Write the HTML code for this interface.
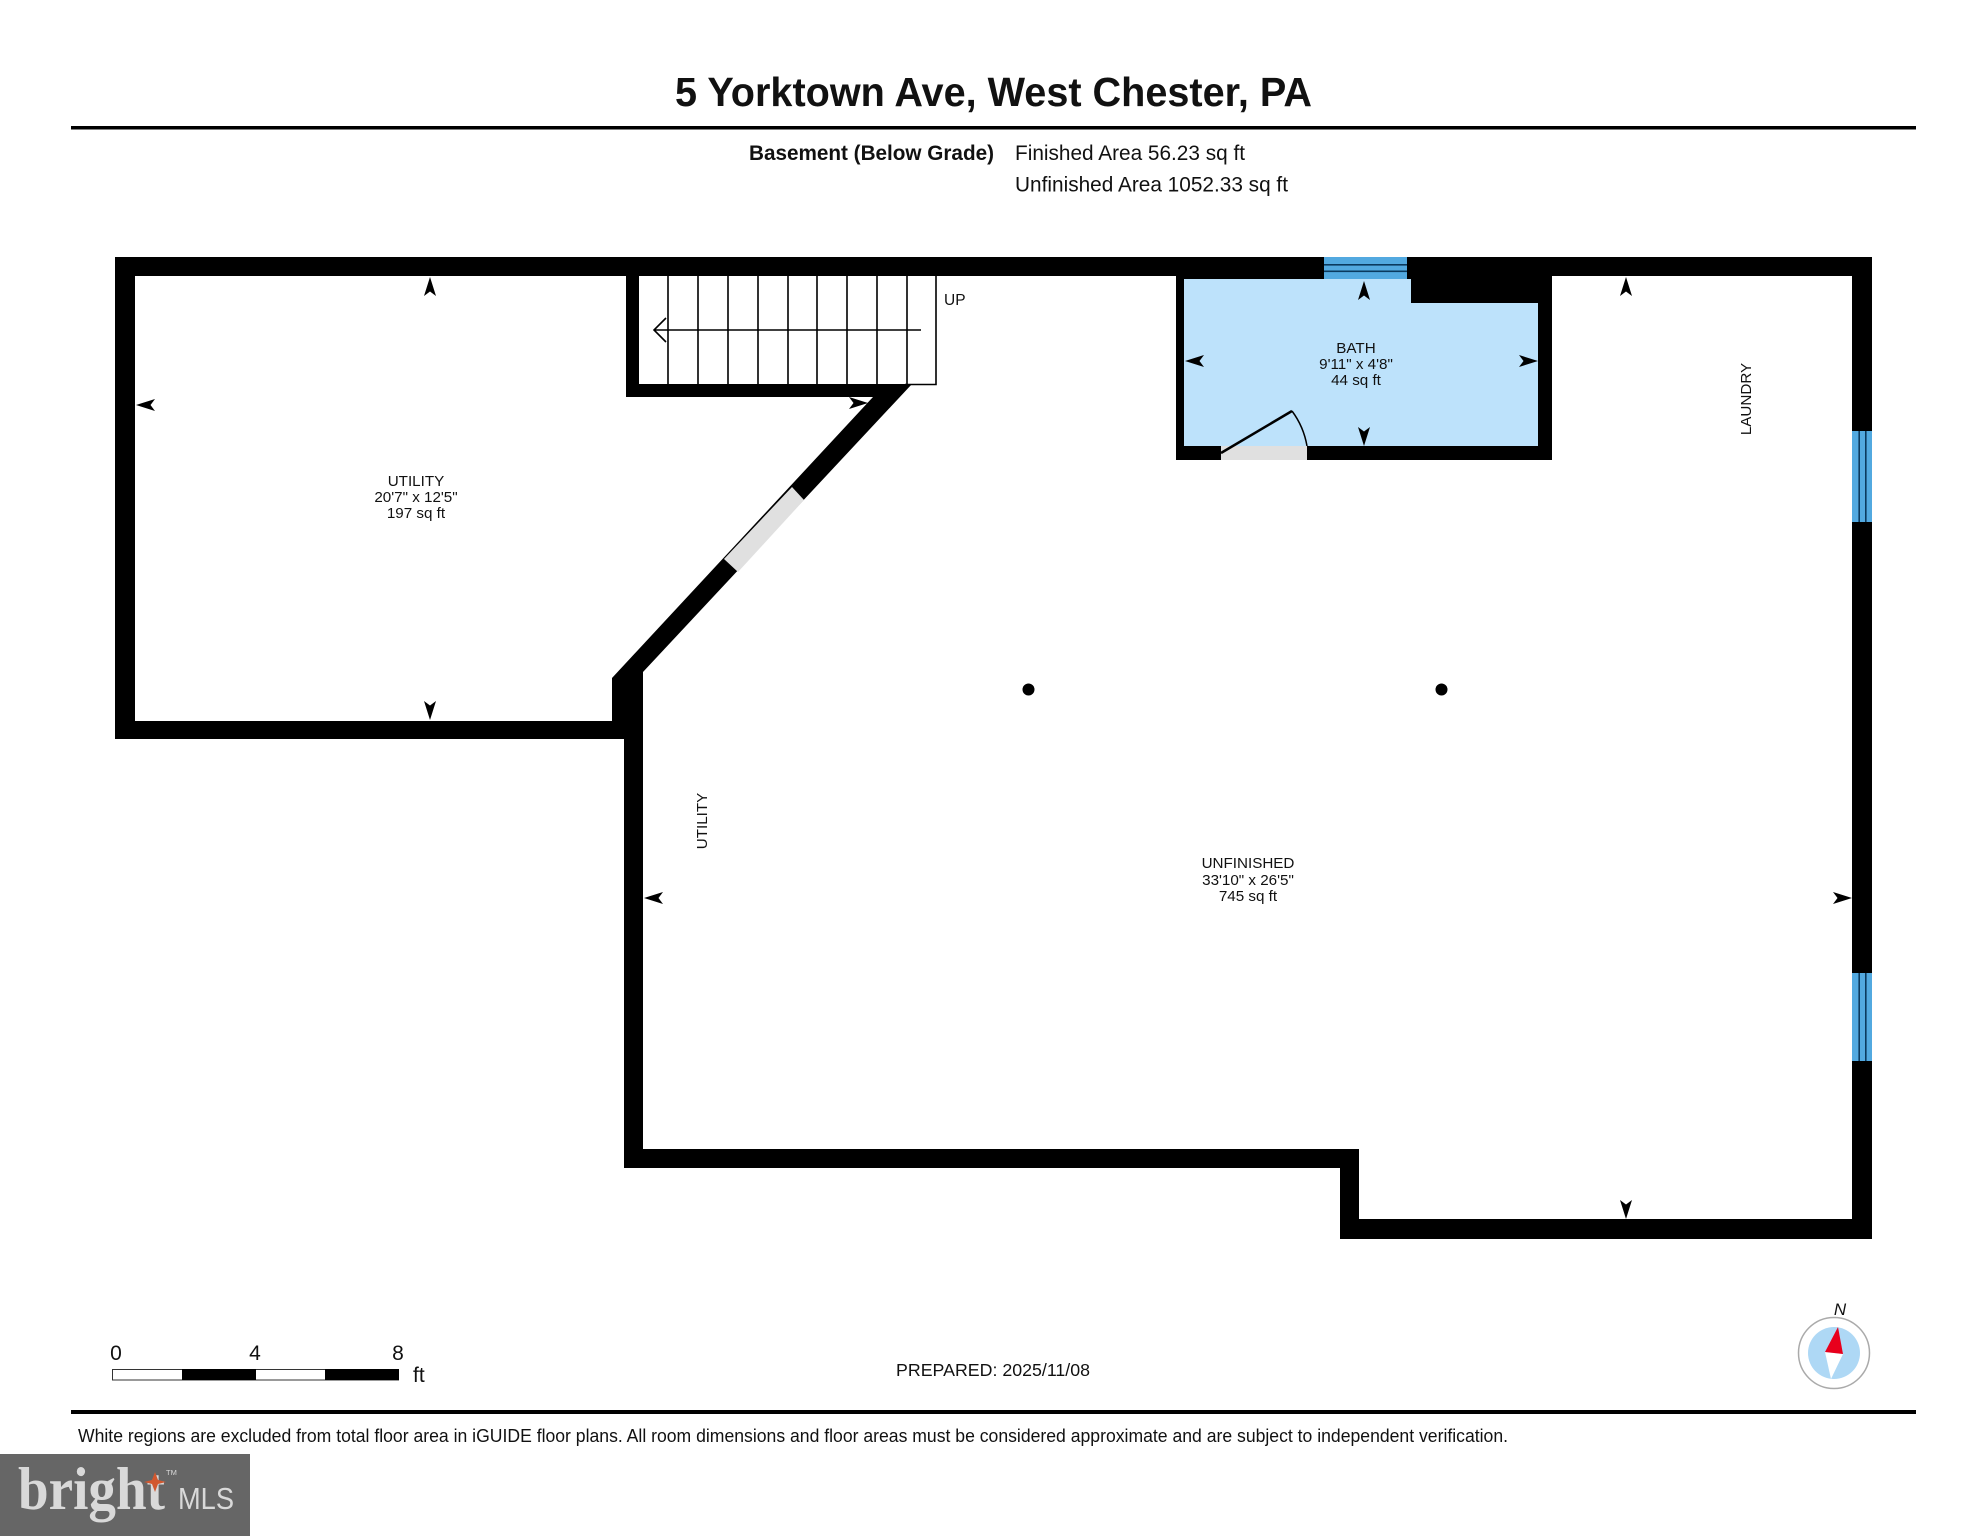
<!DOCTYPE html>
<html><head><meta charset="utf-8"><style>
html,body{margin:0;padding:0;background:#fff}
svg{display:block}
text{font-family:"Liberation Sans",sans-serif;fill:#111}
</style></head><body>
<svg width="1987" height="1536" viewBox="0 0 1987 1536" xmlns="http://www.w3.org/2000/svg">
<rect width="1987" height="1536" fill="#fff"/>
<defs>
<path id="a" d="M0,0 L6,19 L0,14.5 L-6,19 Z" fill="#000"/>
</defs>

<!-- header -->
<text x="675" y="106" font-size="40.5" font-weight="bold" fill="#000" textLength="637" lengthAdjust="spacingAndGlyphs">5 Yorktown Ave, West Chester, PA</text>
<rect x="71" y="126" width="1845" height="3.5" fill="#000"/>
<text x="749" y="160" font-size="21" font-weight="bold" textLength="245" lengthAdjust="spacingAndGlyphs">Basement (Below Grade)</text>
<text x="1015" y="160" font-size="21" textLength="230" lengthAdjust="spacingAndGlyphs">Finished Area 56.23 sq ft</text>
<text x="1015" y="191.5" font-size="21" textLength="273" lengthAdjust="spacingAndGlyphs">Unfinished Area 1052.33 sq ft</text>

<!-- bath fill -->
<rect x="1184" y="276" width="354" height="170" fill="#bde2fb"/>

<!-- walls -->
<g fill="#000">
<rect x="115" y="257" width="1757" height="19"/>
<rect x="115" y="257" width="20" height="482"/>
<rect x="115" y="721" width="528" height="18"/>
<polygon points="873,397 885,384 912,384 643,672 643,739 612,739 612,678"/>
<rect x="624" y="672" width="19" height="496"/>
<rect x="624" y="1149" width="735" height="19"/>
<rect x="1340" y="1149" width="19" height="90"/>
<rect x="1340" y="1219" width="532" height="20"/>
<rect x="1852" y="257" width="20" height="982"/>
<!-- stair walls -->
<rect x="626" y="257" width="13" height="140"/>
<rect x="626" y="384" width="260" height="13"/>
<!-- bath walls -->
<rect x="1176" y="257" width="8" height="203"/>
<rect x="1176" y="446" width="376" height="14"/>
<rect x="1538" y="257" width="14" height="203"/>
<rect x="1176" y="276" width="148" height="3"/>
<rect x="1407" y="257" width="145" height="22"/>
<rect x="1411" y="257" width="141" height="46"/>
</g>

<!-- diagonal door opening -->
<polygon points="792,487 804,500 738,572 724,559" fill="#e0e0e0"/>
<!-- bath door opening -->
<rect x="1221" y="446" width="86" height="14" fill="#e0e0e0"/>
<path d="M1221,453 L1292,411" stroke="#000" stroke-width="2.5" fill="none"/>
<path d="M1292,411 A82,82 0 0 1 1307,446" stroke="#000" stroke-width="1.5" fill="none"/>

<!-- windows -->
<g>
<rect x="1324" y="257" width="83" height="22" fill="#52a9e0"/>
<rect x="1324" y="264" width="83" height="1.6" fill="#0b3a5e"/>
<rect x="1324" y="270.5" width="83" height="1.6" fill="#0b3a5e"/>
<rect x="1852" y="431" width="20" height="91" fill="#52a9e0"/>
<rect x="1858.4" y="431" width="1.6" height="91" fill="#0b3a5e"/>
<rect x="1865" y="431" width="1.6" height="91" fill="#0b3a5e"/>
<rect x="1852" y="973" width="20" height="88" fill="#52a9e0"/>
<rect x="1858.4" y="973" width="1.6" height="88" fill="#0b3a5e"/>
<rect x="1865" y="973" width="1.6" height="88" fill="#0b3a5e"/>
</g>

<!-- stairs -->
<g stroke="#000" stroke-width="1.6" fill="none">
<path d="M668,276 V384 M698,276 V384 M728,276 V384 M758,276 V384 M788,276 V384 M817,276 V384 M847,276 V384 M877,276 V384 M907,276 V384 M936,276 V384.5 H905"/>
<path d="M921,330 H654 M666,318 L654,330 L666,342"/>
</g>
<text x="944" y="305" font-size="15.5">UP</text>

<!-- arrows -->
<use href="#a" transform="translate(430,277)"/>
<use href="#a" transform="translate(430,720) rotate(180)"/>
<use href="#a" transform="translate(136,405) rotate(-90)"/>
<use href="#a" transform="translate(868,403) rotate(90)"/>
<use href="#a" transform="translate(1364,281)"/>
<use href="#a" transform="translate(1364,446) rotate(180)"/>
<use href="#a" transform="translate(1185,361) rotate(-90)"/>
<use href="#a" transform="translate(1538,361) rotate(90)"/>
<use href="#a" transform="translate(1626,277)"/>
<use href="#a" transform="translate(1626,1219) rotate(180)"/>
<use href="#a" transform="translate(644,898) rotate(-90)"/>
<use href="#a" transform="translate(1852,898) rotate(90)"/>

<!-- posts -->
<circle cx="1028.5" cy="689.5" r="6" fill="#000"/>
<circle cx="1441.5" cy="689.5" r="6" fill="#000"/>

<!-- room labels -->
<g font-size="15.2" text-anchor="middle">
<text x="416" y="486">UTILITY</text>
<text x="416" y="502">20'7" x 12'5"</text>
<text x="416" y="518">197 sq ft</text>
<text x="1356" y="353">BATH</text>
<text x="1356" y="369">9'11" x 4'8"</text>
<text x="1356" y="385">44 sq ft</text>
<text x="1248" y="868">UNFINISHED</text>
<text x="1248" y="885">33'10" x 26'5"</text>
<text x="1248" y="901">745 sq ft</text>
<text transform="translate(707,821) rotate(-90)">UTILITY</text>
<text transform="translate(1751,399) rotate(-90)">LAUNDRY</text>
</g>

<!-- scale -->
<rect x="112.5" y="1369.5" width="286" height="10.5" fill="#fff" stroke="#333" stroke-width="1"/>
<rect x="182" y="1369" width="74" height="11" fill="#000"/>
<rect x="325" y="1369" width="74" height="11" fill="#000"/>
<g font-size="21" text-anchor="middle">
<text x="116" y="1360">0</text>
<text x="255" y="1360">4</text>
<text x="398" y="1360">8</text>
</g>
<text x="413" y="1382" font-size="21">ft</text>

<text x="896" y="1376" font-size="17.5" textLength="194" lengthAdjust="spacingAndGlyphs">PREPARED: 2025/11/08</text>

<!-- compass -->
<text x="1840" y="1315" font-size="17" font-style="italic" text-anchor="middle">N</text>
<circle cx="1834" cy="1353" r="35.5" fill="#fff" stroke="#aaa" stroke-width="1.5"/>
<circle cx="1834" cy="1353" r="26" fill="#aed8f5"/>
<polygon points="1825,1352 1843,1354 1831,1379" fill="#fff"/>
<polygon points="1838,1327 1825,1352 1843,1354" fill="#e8001c"/>

<!-- footer -->
<rect x="71" y="1410" width="1845" height="4" fill="#000"/>
<text x="78" y="1442" font-size="18" textLength="1430" lengthAdjust="spacingAndGlyphs">White regions are excluded from total floor area in iGUIDE floor plans. All room dimensions and floor areas must be considered approximate and are subject to independent verification.</text>

<!-- logo -->
<rect x="0" y="1454" width="250" height="82" fill="#666"/>
<text x="18" y="1509" font-size="60" font-weight="bold" textLength="147" lengthAdjust="spacingAndGlyphs" style="font-family:'Liberation Serif',serif;fill:#d9d9d9">bright</text>
<polygon points="155,1472 158,1480 166,1482 158,1484 155,1492 152,1484 144,1482 152,1480" fill="#d2572e"/>
<text x="166" y="1475" font-size="7.5" style="fill:#d9d9d9">TM</text>
<text x="178" y="1509" font-size="31" textLength="56" lengthAdjust="spacingAndGlyphs" style="fill:#d9d9d9">MLS</text>
</svg>
</body></html>
